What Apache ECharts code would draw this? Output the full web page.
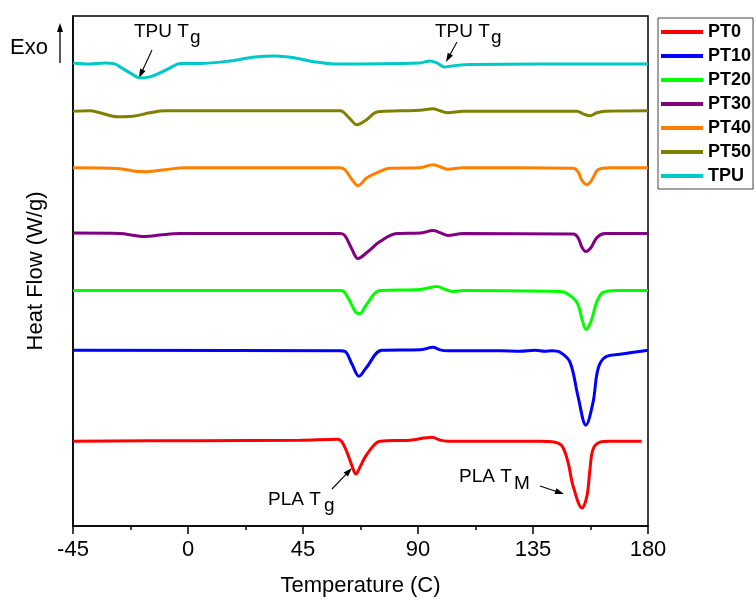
<!DOCTYPE html>
<html>
<head>
<meta charset="utf-8">
<script src="https://cdn.jsdelivr.net/npm/echarts@6/dist/echarts.min.js"></script>
<style>
html,body{margin:0;padding:0;background:#fff;}
#chart{width:756px;height:602px;}
</style>
</head>
<body>
<div id="chart"></div>
<script>
// ---- data: [temperature (C), stacked heat flow (arb. offset units)] ----
const seriesNames = ['PT0', 'PT10', 'PT20', 'PT30', 'PT40', 'PT50', 'TPU'];
const seriesColors = ['#FF0000', '#0000FF', '#00FF00', '#800080', '#FF8000', '#808000', '#00C8C8'];

const pt0 = [[-45,8.5],[4.7,8.55],[43.8,8.6],[58.7,8.7],[60.3,8.4],[62.2,7.4],[64.2,6.0],[65.7,5.2],[67.3,5.9],[69.3,6.9],[72.4,8.0],[75.1,8.5],[86.9,8.6],[95.5,8.9],[98.6,8.6],[101.7,8.5],[137.7,8.5],[143.6,8.4],[146.4,8.0],[148.7,6.4],[150.7,4.0],[154.2,1.8],[156.1,3.0],[157.3,5.7],[158.5,7.7],[161.2,8.4],[165.1,8.5],[177.5,8.5]];
const pt10 = [[-45,17.6],[59.5,17.55],[61.4,17.5],[64.2,16.2],[66.9,15.0],[69.6,15.8],[75.9,17.6],[90.8,17.65],[95.9,17.9],[98.6,17.65],[101.7,17.55],[122.1,17.55],[129.9,17.5],[135.8,17.6],[139.7,17.5],[142.4,17.55],[145.6,17.4],[149.5,16.4],[152.6,13.0],[155.7,10.1],[158.5,12.4],[160.4,15.7],[163.2,16.9],[169.0,17.2],[180,17.6]];
const pt20 = [[-45,23.6],[59.5,23.6],[60.7,23.55],[63.4,22.5],[65.7,21.4],[67.3,21.3],[69.6,22.1],[75.1,23.6],[90.8,23.7],[97.4,24.0],[100.6,23.7],[103.3,23.5],[107.6,23.6],[145.6,23.5],[148.3,23.3],[152.2,22.4],[154.2,20.7],[155.7,19.7],[157.7,20.5],[160.0,22.5],[162.4,23.4],[167.9,23.6],[180,23.6]];
const pt30 = [[-45,29.35],[-26.6,29.3],[-20.7,29.1],[-16.8,29.0],[-11.0,29.15],[-3.1,29.3],[59.5,29.3],[61.4,29.1],[64.2,27.7],[66.5,26.8],[70.0,27.4],[75.1,28.5],[81.8,29.3],[90.8,29.35],[95.9,29.6],[98.6,29.4],[101.7,29.1],[107.6,29.3],[150.7,29.25],[152.6,28.9],[154.2,27.9],[155.7,27.5],[157.7,27.9],[160.0,28.9],[163.2,29.3],[180,29.3]];
const pt40 = [[-45,35.9],[-26.6,35.8],[-20.7,35.55],[-16.0,35.5],[-9.0,35.7],[-1.2,35.9],[59.5,35.9],[61.4,35.7],[64.2,34.7],[66.5,34.1],[70.0,34.9],[74.0,35.4],[79.0,35.85],[90.8,35.9],[95.9,36.2],[98.6,36.0],[101.7,35.75],[107.6,35.9],[150.7,35.85],[152.6,35.5],[154.2,34.6],[156.1,34.2],[158.1,34.7],[160.4,35.7],[165.1,35.9],[180,35.9]];
const pt50 = [[-45,41.55],[-38.4,41.6],[-34.4,41.4],[-27.6,41.0],[-21.7,41.05],[-14.9,41.4],[-9.0,41.6],[24.3,41.6],[59.5,41.6],[60.7,41.5],[63.4,40.8],[66.1,40.2],[69.3,40.6],[74.3,41.5],[83.0,41.6],[90.8,41.65],[95.9,41.8],[98.6,41.6],[101.7,41.4],[107.6,41.55],[152.2,41.55],[154.6,41.3],[157.3,41.1],[160.0,41.4],[163.2,41.55],[180,41.6]];
const tpu = [[-45,46.4],[-38.4,46.3],[-32.5,46.4],[-28.6,46.3],[-26.6,46.0],[-22.7,45.4],[-18.8,44.9],[-14.9,45.0],[-11.0,45.4],[-7.0,45.9],[-3.1,46.35],[4.7,46.35],[16.4,46.6],[26.2,47.0],[34.0,47.1],[41.9,46.9],[49.7,46.5],[57.5,46.3],[90.8,46.4],[94.7,46.6],[97.4,46.4],[100.2,46.0],[103.3,46.1],[110.4,46.25],[180,46.3]];
const seriesData = [pt0, pt10, pt20, pt30, pt40, pt50, tpu];

const xMin = -45, xMax = 180, xStep = 45;
const yMin = 0, yMax = 51.1;

const FONT = '"Liberation Sans", Arial, Helvetica, sans-serif';

function arrow(x1, y1, x2, y2, len, wid, lw) {
  const dx = x2 - x1, dy = y2 - y1, d = Math.hypot(dx, dy);
  const ux = dx / d, uy = dy / d;
  const bx = x2 - ux * len, by = y2 - uy * len;
  const px = -uy * wid / 2, py = ux * wid / 2;
  return [
    { type: 'line', silent: true, shape: { x1: x1, y1: y1, x2: bx + ux * 1, y2: by + uy * 1 }, style: { stroke: '#000', lineWidth: lw } },
    { type: 'polygon', silent: true, shape: { points: [[x2, y2], [bx + px, by + py], [bx - px, by - py]] }, style: { fill: '#000' } }
  ];
}
function txt(x, y, s, size) {
  return { type: 'text', silent: true, x: x, y: y, style: { text: s, font: size + 'px ' + FONT, fill: '#000', align: 'left', verticalAlign: 'middle' } };
}

const chart = echarts.init(document.getElementById('chart'), null, { renderer: 'canvas' });

const graphics = [].concat(
  [txt(10, 48, 'Exo', 22)],
  arrow(60, 63, 60, 23, 9, 6, 1.3),
  [txt(134, 32, 'TPU T', 19), txt(190, 38, 'g', 19)],
  arrow(152, 50, 139, 78, 9, 6, 1.1),
  [txt(435, 32, 'TPU T', 19), txt(491, 38, 'g', 19)],
  arrow(457, 42, 446, 62, 9, 6, 1.1),
  [txt(268, 500, 'PLA T', 19), txt(324, 506, 'g', 19)],
  arrow(332, 489, 352, 468, 9, 6, 1.1),
  [txt(459, 477, 'PLA T', 19), txt(514, 484, 'M', 19)],
  arrow(540, 486, 564, 494, 9, 6, 1.1)
);

chart.setOption({
  animation: false,
  backgroundColor: '#fff',
  textStyle: { fontFamily: FONT },
  grid: { left: 73, right: 108, top: 16, bottom: 75, show: true, borderColor: '#000', borderWidth: 1.5, backgroundColor: 'transparent' },
  legend: {
    orient: 'vertical', left: 658, top: 18,
    padding: [5, 2, 4, 3],
    borderColor: '#444', borderWidth: 1,
    itemWidth: 42, itemHeight: 4, itemGap: 6,
    icon: 'rect',
    data: seriesNames,
    textStyle: { fontFamily: FONT, fontWeight: 'bold', fontSize: 18, color: '#000', lineHeight: 18 }
  },
  xAxis: {
    type: 'value', min: xMin, max: xMax, interval: xStep,
    name: 'Temperature (C)', nameLocation: 'middle', nameGap: 49,
    nameTextStyle: { fontSize: 22, color: '#000', fontFamily: FONT },
    axisLine: { show: true, onZero: false, lineStyle: { color: '#000', width: 1.5 } },
    axisTick: { show: true, inside: false, length: 8, lineStyle: { color: '#000', width: 1.5 } },
    minorTick: { show: true, splitNumber: 2, length: 4, lineStyle: { color: '#000', width: 1.5 } },
    axisLabel: { fontSize: 22, color: '#000', margin: 13, fontFamily: FONT },
    splitLine: { show: false }
  },
  yAxis: {
    type: 'value', min: yMin, max: yMax,
    name: 'Heat Flow (W/g)', nameLocation: 'middle', nameGap: 26, nameRotate: 90,
    nameTextStyle: { fontSize: 22, color: '#000', fontFamily: FONT },
    axisLine: { show: true, onZero: false, lineStyle: { color: '#000', width: 1.5 } },
    axisTick: { show: false },
    axisLabel: { show: false },
    splitLine: { show: false }
  },
  series: seriesNames.map((n, i) => ({
    name: n, type: 'line', data: seriesData[i],
    smooth: 0.35, showSymbol: false, symbol: 'none',
    lineStyle: { color: seriesColors[i], width: 3 },
    itemStyle: { color: seriesColors[i] }
  })),
  graphic: graphics
});
</script>
</body>
</html>
